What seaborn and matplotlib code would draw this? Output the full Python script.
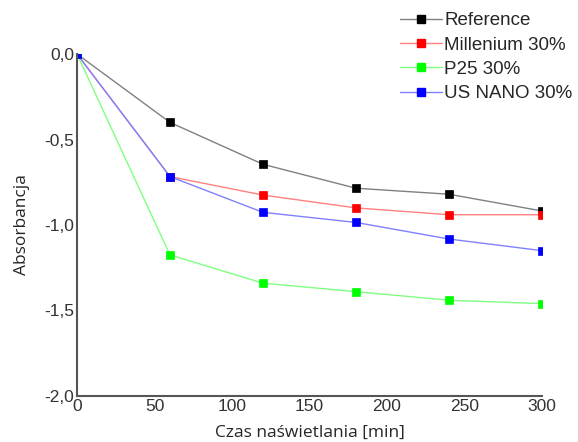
import matplotlib
matplotlib.use("Agg")
import matplotlib.pyplot as plt
import seaborn as sns
import pandas as pd
from matplotlib.lines import Line2D

time_min = [0, 60, 120, 180, 240, 300]
series_names = ["Reference", "Millenium 30%", "P25 30%", "US NANO 30%"]
reference = [0.0, -0.40, -0.645, -0.785, -0.82, -0.918]
millenium = [0.0, -0.717, -0.825, -0.90, -0.94, -0.94]
p25 = [0.0, -1.175, -1.34, -1.39, -1.44, -1.46]
us_nano = [0.0, -0.717, -0.926, -0.985, -1.082, -1.15]
x_ticks = [0, 50, 100, 150, 200, 250, 300]
y_ticks = [-2.0, -1.5, -1.0, -0.5, 0.0]

values = [reference, millenium, p25, us_nano]
line_colors = ["#808080", "#ff8080", "#80ff80", "#8080ff"]
marker_colors = ["#000000", "#ff0000", "#00ff00", "#0000ff"]

sns.set_theme(style="white")
plt.rcParams['font.family'] = ['Liberation Sans', 'DejaVu Sans']

df = pd.concat([pd.DataFrame({"t": time_min, "a": v, "s": n}) for n, v in zip(series_names, values)])

fig = plt.figure(figsize=(5.78, 4.42), dpi=100)
ax = fig.add_axes([0.1332, 0.1041, 0.8045, 0.7737])

for n, lc, mc in zip(series_names, line_colors, marker_colors):
    sub = df[df["s"] == n]
    sns.lineplot(data=sub, x="t", y="a", ax=ax, color=lc, linewidth=1.0,
                 marker="s", markersize=5.5, markerfacecolor=mc, markeredgecolor=mc,
                 markeredgewidth=0.5, legend=False, errorbar=None)

ax.set_xlim(0, 300)
ax.set_ylim(-2.0, 0.0)
ax.set_xticks(x_ticks)
ax.set_xticklabels([str(v) for v in x_ticks])
ax.set_yticks(y_ticks)
ax.set_yticklabels([f"{v:.1f}".replace(".", ",") for v in y_ticks])
ax.tick_params(axis="both", length=0, labelsize=12.5, colors="#333333", pad=2)
for side in ["top", "right"]:
    ax.spines[side].set_visible(False)
for side in ["left", "bottom"]:
    ax.spines[side].set_color("#555555")
    ax.spines[side].set_linewidth(1.5)

ax.set_xlabel("Czas naświetlania [min]", fontsize=12.5, family=["Open Sans", "DejaVu Sans"], labelpad=8)
ax.set_ylabel("Absorbancja", fontsize=12.5, family=["Open Sans", "DejaVu Sans"], labelpad=10)

handles = [Line2D([0], [0], color=lc, lw=1.0, marker="s", markersize=5.5,
                  markerfacecolor=mc, markeredgecolor=mc) for lc, mc in zip(line_colors, marker_colors)]
fig.legend(handles, series_names, loc="upper right", bbox_to_anchor=(1.012, 1.0),
           frameon=False, fontsize=13.5, handlelength=2.2, handletextpad=0.15,
           labelspacing=0.38, borderaxespad=0.25)

fig.savefig("out.png", dpi=100)
